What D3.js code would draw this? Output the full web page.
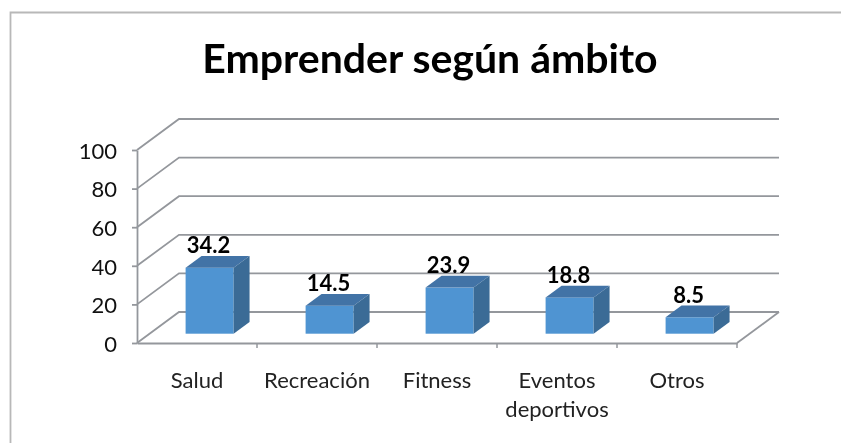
<!DOCTYPE html>
<html>
<head>
<meta charset="utf-8">
<script src="https://cdnjs.cloudflare.com/ajax/libs/d3/7.8.5/d3.min.js"></script>
<style>
  html, body { margin: 0; padding: 0; background: #fff; }
  svg { display: block; filter: blur(0.5px); }
  svg text { font-family: Lato, sans-serif; }
</style>
</head>
<body>
<svg class="root" width="841" height="443"></svg>
<script>
var categories = ["Salud", "Recreación", "Fitness", "Eventos deportivos", "Otros"];
var values = [34.2, 14.5, 23.9, 18.8, 8.5];
var valueLabels = ["34.2", "14.5", "23.9", "18.8", "8.5"];
var yTicks = [0, 20, 40, 60, 80, 100];

var margin = {left: 137, right: 104, top: 150, bottom: 100},
  width = 841 - margin.left - margin.right,
  height = 443 - margin.top - margin.bottom;

// how far the back wall sits from the front of the floor
var depthX = 42, depthY = 31,
  barDepth = 0.3, barDepthEnd = 0.68;

var lineColor = "#94979c";

var svg = d3.select(".root");

svg.append("path")
  .attr("d", "M10.5,443V12.5H841")
  .attr("fill", "none")
  .attr("stroke", "#b8b8b8")
  .attr("stroke-width", 1.8);

svg.append("text")
  .attr("x", 430)
  .attr("y", 73)
  .attr("text-anchor", "middle")
  .attr("font-size", 41)
  .attr("font-weight", 700)
  .attr("fill", "#000")
  .text("Emprender según ámbito");

var chart = svg.append("g")
  .attr("transform", "translate(" + margin.left + "," + margin.top + ")");

var x = d3.scaleBand().domain(categories).range([0, width]);
var y = d3.scaleLinear().domain([0, 100]).range([height, 0]);

// gridlines on the back wall plus the slanted bit on the side wall
chart.selectAll(".grid")
  .data(yTicks)
  .enter().append("path")
    .attr("class", "grid")
    .attr("fill", "none")
    .attr("stroke", lineColor)
    .attr("stroke-width", 1.8)
    .attr("d", (d) => {
      return "M0," + y(d) + "l" + depthX + "," + (-depthY) + "H" + (width + depthX);
    });

// floor edge on the right
chart.append("path")
  .attr("fill", "none")
  .attr("stroke", lineColor)
  .attr("stroke-width", 1.8)
  .attr("d", "M" + width + "," + y(0) + "l" + depthX + "," + (-depthY));

var yAxis = d3.axisLeft(y).tickValues(yTicks).tickSize(5).tickPadding(15).tickSizeOuter(0);
var xAxis = d3.axisBottom(x).tickValues([]).tickSize(0);

var yG = chart.append("g").call(yAxis);
yG.selectAll("text").attr("font-size", 22).attr("fill", "#111").attr("dy", "0.38em");
yG.selectAll("line, path").attr("stroke", lineColor).attr("stroke-width", 1.8);

var xG = chart.append("g")
  .attr("transform", "translate(0," + height + ")")
  .call(xAxis);
xG.selectAll("path").attr("stroke", lineColor).attr("stroke-width", 1.8);

// tick marks sit between the categories, not on them
xG.selectAll(".sep")
  .data(categories)
  .enter().append("line")
    .attr("class", "sep")
    .attr("x1", (d) => x(d) + x.bandwidth())
    .attr("x2", (d) => x(d) + x.bandwidth())
    .attr("y1", 0)
    .attr("y2", 5)
    .attr("stroke", lineColor)
    .attr("stroke-width", 1.5);

xG.selectAll(".cat")
  .data(categories)
  .enter().append("text")
    .attr("class", "cat")
    .attr("text-anchor", "middle")
    .attr("font-size", 22)
    .attr("fill", "#222")
    .attr("y", 45)
    .each(function(d) {
      var words = d.split(" ");
      var t = d3.select(this);
      words.forEach((w, i) => {
        t.append("tspan")
          .attr("x", x(d) + x.bandwidth() / 2)
          .attr("dy", i ? 29 : 0)
          .text(w);
      });
    });

// bars: front face, top and side
var bw = x.bandwidth() * 0.4,
  startX = depthX * barDepth,
  startY = -depthY * barDepth,
  dx = depthX * (barDepthEnd - barDepth),
  dy = -depthY * (barDepthEnd - barDepth);

var bars = chart.selectAll(".bar")
  .data(values)
  .enter().append("g")
    .attr("class", "bar")
    .attr("transform", (d, i) => {
      return "translate(" + (x(categories[i]) + x.bandwidth() / 2 - bw / 2 + startX) + "," + startY + ")";
    });

bars.append("rect")
  .attr("y", (d) => y(d))
  .attr("width", bw)
  .attr("height", (d) => height - y(d))
  .attr("fill", "#4f94d2");

bars.append("path")
  .attr("fill", "#4273a6")
  .attr("d", (d) => {
    return "M0," + y(d) + "l" + dx + "," + dy + "h" + bw + "l" + (-dx) + "," + (-dy) + "z";
  });

bars.append("path")
  .attr("fill", "#3b6b96")
  .attr("d", (d) => {
    return "M" + bw + "," + y(d) + "l" + dx + "," + dy + "V" + (height + dy) + "l" + (-dx) + "," + (-dy) + "z";
  });

bars.append("text")
  .attr("x", bw / 2 - 1)
  .attr("y", (d) => y(d) - 14.5)
  .attr("text-anchor", "middle")
  .attr("font-size", 22)
  .attr("font-weight", 700)
  .attr("fill", "#000")
  .text((d, i) => valueLabels[i]);
</script>
</body>
</html>
